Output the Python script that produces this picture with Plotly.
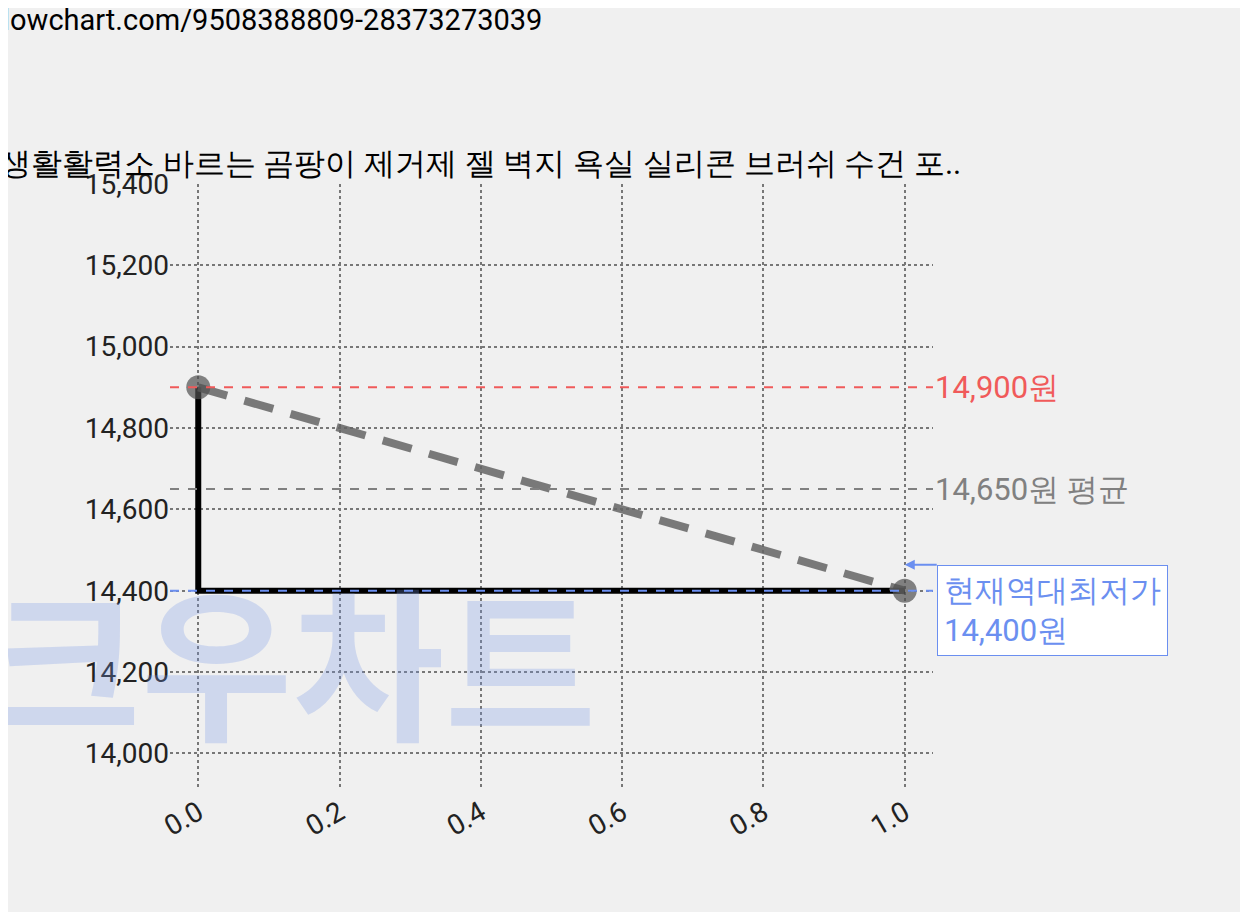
import plotly.graph_objects as go

# data
xs = [0.0, 1.0]
prices = [14900, 14400]
step_x = [0.0, 0.0, 1.0]
step_y = [14900, 14400, 14400]
max_price = 14900
avg_price = 14650
min_price = 14400
title = "생활활력소 바르는 곰팡이 제거제 젤 벽지 욕실 실리콘 브러쉬 수건 포.."
url = "lowchart.com/9508388809-28373273039"
yticks = [14000, 14200, 14400, 14600, 14800, 15000, 15200, 15400]
xticks = [0.0, 0.2, 0.4, 0.6, 0.8, 1.0]

fig = go.Figure()
fig.add_trace(go.Scatter(x=step_x, y=step_y, mode="lines",
                         line=dict(color="black", width=6)))
fig.add_trace(go.Scatter(x=xs, y=prices, mode="lines+markers",
                         line=dict(color="rgba(100,100,100,0.85)", width=8, dash="30px,18px"),
                         marker=dict(size=24, color="rgba(80,80,80,0.7)")))

for val, col in [(max_price, "#f05a5a"), (avg_price, "#808080"), (min_price, "#6b8ff0")]:
    fig.add_shape(type="line", xref="paper", x0=0, x1=1, y0=val, y1=val,
                  line=dict(color=col, width=2, dash="dash"))

fig.add_annotation(xref="paper", x=1.0, y=max_price, text="14,900원", showarrow=False,
                   xanchor="left", font=dict(size=31, color="#f05a5a"))
fig.add_annotation(xref="paper", x=1.0, y=avg_price, text="14,650원 평균", showarrow=False,
                   xanchor="left", font=dict(size=31, color="#808080"))
fig.add_annotation(x=1.0, y=min_price, text="현재역대최저가<br>14,400원", showarrow=True,
                   ax=32, ay=0, axref="pixel", ayref="pixel", xanchor="left", yanchor="top",
                   align="left", arrowhead=2, arrowcolor="#6b8ff0", arrowwidth=2,
                   bgcolor="white", bordercolor="#6b8ff0", borderwidth=1, borderpad=6,
                   yshift=26, font=dict(size=31, color="#6b8ff0"))

# watermark
fig.add_annotation(xref="paper", yref="paper", x=-0.24, y=0.02, text="<b>크우차트</b>",
                   showarrow=False, xanchor="left", yanchor="bottom",
                   font=dict(size=165, family="Noto Sans CJK KR", color="rgba(120,150,230,0.28)"))

fig.add_annotation(xref="paper", yref="paper", x=-0.225, y=1.0, text=title,
                   showarrow=False, xanchor="left", yanchor="bottom",
                   font=dict(size=31, color="black"))
fig.add_annotation(xref="paper", yref="paper", x=-0.222, y=1.24, text=url,
                   showarrow=False, xanchor="left", yanchor="bottom",
                   font=dict(size=29, color="black"))

fig.update_layout(
    width=1248, height=912, showlegend=False,
    paper_bgcolor="#f0f0f0", plot_bgcolor="#f0f0f0",
    margin=dict(l=162, r=323, t=176, b=130),
    font=dict(family="Roboto", size=28, color="#222"),
    xaxis=dict(range=[-0.04, 1.04], tickvals=xticks, tickformat=".1f", tickangle=-30,
               showgrid=True, gridcolor="#777", griddash="dot", gridwidth=2,
               zeroline=False, ticks="", showline=False),
    yaxis=dict(range=[13910, 15400], tickvals=yticks, tickformat=",",
               showgrid=True, gridcolor="#777", griddash="dot", gridwidth=2,
               zeroline=False, ticks="", showline=False),
)
fig.write_html("out.html")
